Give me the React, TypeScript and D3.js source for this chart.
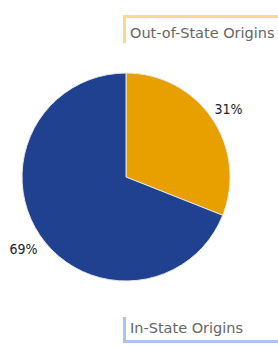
import React from 'react';
import * as d3 from 'd3';

const categories = ['Out-of-State Origins', 'In-State Origins'];
const values = [31, 69];
const colors = ['#E89F00', '#1F4190'];
const borderColors = ['#FBD98A', '#A9C4F0'];

export default function App() {
  const width = 278;
  const height = 349;
  const cx = 126;
  const cy = 177;
  const r = 104;

  const slices = d3.pie<number>().sort(null).value(d => d)(values);
  const arcGen = d3.arc<d3.PieArcDatum<number>>().innerRadius(0).outerRadius(r);
  const labelArc = d3.arc<d3.PieArcDatum<number>>().innerRadius(r + 20).outerRadius(r + 20);

  return (
    <svg width={width} height={height} style={{position: 'absolute', left: 0, top: 0}}>
      <g transform={`translate(${cx},${cy})`}>
        {slices.map((s, i) => (
          <path key={i} d={arcGen(s) || ''} fill={colors[i]} stroke="#e6e6e6" strokeWidth={1} />
        ))}
        {slices.map((s, i) => {
          const [x, y] = labelArc.centroid(s);
          return (
            <text key={i} x={x} y={y + 2} dy="0.35em" textAnchor="middle"
              fontFamily="DejaVu Sans Condensed, DejaVu Sans, sans-serif" fontSize={14} fill="#222">
              {`${values[i]}%`}
            </text>
          );
        })}
      </g>
      {/* top legend box */}
      <g>
        <rect x={123} y={15} width={155} height={3} fill={borderColors[0]} />
        <rect x={123} y={15} width={3} height={28} fill={borderColors[0]} />
        <text x={130} y={38} fontFamily="DejaVu Sans, sans-serif" fontSize={14.5} fill="#666">
          {categories[0]}
        </text>
      </g>
      <g>
        <rect x={123} y={317} width={3} height={26} fill={borderColors[1]} />
        <rect x={123} y={340} width={155} height={3} fill={borderColors[1]} />
        <text x={130} y={333} fontFamily="DejaVu Sans, sans-serif" fontSize={14.5} fill="#666">
          {categories[1]}
        </text>
      </g>
    </svg>
  );
}
